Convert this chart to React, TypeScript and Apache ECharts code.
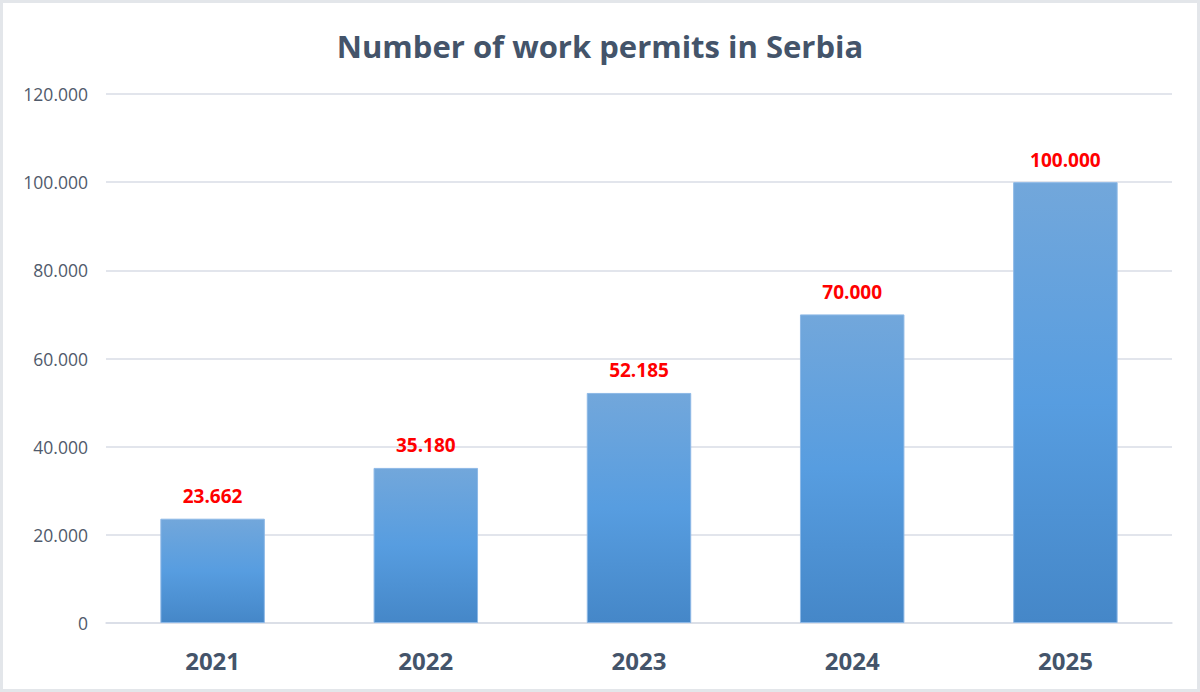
import React, { useEffect, useRef } from 'react';
import * as echarts from 'echarts';

const years = ['2021', '2022', '2023', '2024', '2025'];
const permits = [23662, 35180, 52185, 70000, 100000];

// 23662 -> "23.662"
const fmt = (v: number) => String(v).replace(/\B(?=(\d{3})+(?!\d))/g, '.');

const App: React.FC = () => {
  const chartRef = useRef<HTMLDivElement>(null);

  useEffect(() => {
    document.body.style.margin = '0';
    if (!chartRef.current) return;
    const chart = echarts.init(chartRef.current, undefined, { renderer: 'svg' });

    const option: any = {
      animation: false,
      backgroundColor: '#fff',
      title: {
        text: 'Number of work permits in Serbia',
        left: 'center',
        top: 22,
        textStyle: {
          fontFamily: 'Open Sans',
          fontSize: 31,
          fontWeight: 'bold',
          color: '#44546A'
        }
      },
      grid: {
        left: 103,
        right: 25,
        top: 91,
        bottom: 66
      },
      xAxis: {
        type: 'category',
        data: years,
        axisLine: { lineStyle: { color: '#D9DDE6', width: 1.5 } },
        axisTick: { show: false },
        axisLabel: {
          margin: 25,
          fontFamily: 'Open Sans',
          fontSize: 24,
          fontWeight: 'bold',
          color: '#44546A'
        }
      },
      yAxis: {
        type: 'value',
        min: 0,
        max: 120000,
        interval: 20000,
        axisLine: { show: false },
        axisTick: { show: false },
        axisLabel: {
          margin: 18,
          fontFamily: 'Open Sans',
          fontSize: 17.5,
          color: '#505A6B',
          formatter: (v: number) => fmt(v)
        },
        splitLine: { lineStyle: { color: '#D9DDE6', width: 1.5 } }
      },
      series: [
        {
          type: 'bar',
          data: permits,
          barWidth: '49%',
          itemStyle: {
            color: new echarts.graphic.LinearGradient(0, 0, 0, 1, [
              { offset: 0, color: '#72A7DB' },
              { offset: 0.5, color: '#579DE0' },
              { offset: 1, color: '#4587C8' }
            ]),
            borderColor: '#8DB8E6',
            borderWidth: 1
          },
          label: {
            show: true,
            position: 'top',
            distance: 13,
            fontFamily: 'Open Sans',
            fontSize: 19,
            fontWeight: 'bold',
            color: '#FF0000',
            formatter: (p: any) => fmt(p.value)
          }
        }
      ]
    };

    chart.setOption(option);
    return () => chart.dispose();
  }, []);

  return (
    <div
      style={{
        width: 1200,
        height: 692,
        boxSizing: 'border-box',
        border: '3px solid #E3E6EA'
      }}
    >
      <div ref={chartRef} style={{ width: 1194, height: 686 }} />
    </div>
  );
};

export default App;
